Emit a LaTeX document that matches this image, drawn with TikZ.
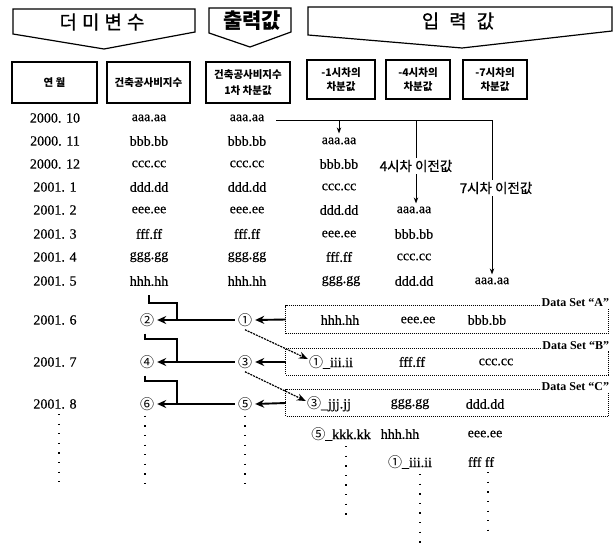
\documentclass[tikz,border=0pt]{standalone}
\usepackage{fontspec}
\setmainfont{Liberation Serif}
\newfontfamily\valf{Liberation Serif}[FakeBold=0.4]
\newfontfamily\krf{Noto Sans CJK KR}
\newfontfamily\krm{Noto Sans CJK KR}[FakeBold=0.8]
\usetikzlibrary{arrows.meta,calc}
\newcommand\fsz[1]{\fontsize{#1}{#1}\selectfont}
\begin{document}
\begin{tikzpicture}[x=1pt,y=-1pt,
  every node/.style={inner sep=1pt},
  val/.style={font=\valf\fsz{14}},
  circ/.style={font=\krf\fsz{14}, inner sep=3pt},
  hdr/.style={draw, line width=1.4pt, align=center, font=\krf\bfseries\fsz{10.5}, inner sep=0pt},
  ban/.style={line width=1.2pt, line join=miter},
  thk/.style={line width=1.9pt},
  thkarr/.style={line width=1.9pt, -{Stealth[length=9pt,width=8pt]}},
  thn/.style={line width=0.9pt},
  thnarr/.style={line width=0.9pt, -{Stealth[length=6pt,width=4.5pt]}},
  dsbox/.style={line width=1pt, dash pattern=on 1pt off 1pt},
  dsarr/.style={line width=1.2pt, dash pattern=on 2pt off 1pt, -{Stealth[length=9pt,width=7pt]}},
  vdots/.style={line width=1.3pt, dash pattern=on 1.3pt off 8.3pt},
  dslab/.style={font=\bfseries\fsz{12}, inner sep=1pt},
  lagl/.style={font=\krm\fsz{13.5}, inner sep=2pt},
]
\useasboundingbox[fill=white] (0,0) rectangle (615,551);

% banners
\draw[ban] (13,9) -- (195,9) -- (195,32) -- (104,49) -- (13,34) -- cycle;
\node[font=\krm\fsz{19}] (tDum) at (102,22) {더\hspace{5pt}미\hspace{5pt}변\hspace{5pt}수};
\draw[ban] (209,8) -- (291,8) -- (291,32) -- (250,47) -- (209,33) -- cycle;
\node[font=\krf\bfseries\fsz{21}] (tOut) at (252,21) {출력값};
\draw[ban] (308,7) -- (612,7) -- (612,31) -- (462,48) -- (308,35) -- cycle;
\node[font=\krm\fsz{19}] (tIn) at (458,21) {입\hspace{10pt}력\hspace{10pt}값};

% column headers
\node[hdr, minimum width=85pt, minimum height=41pt] (h1) at (54.5,82.5) {연 월};
\node[hdr, minimum width=83pt, minimum height=41pt] (h2) at (148.5,82.5) {건축공사비지수};
\node[hdr, minimum width=84pt, minimum height=41pt] (h3) at (248,82.5) {건축공사비지수\\[5pt]1차 차분값};
\node[hdr, minimum width=68pt, minimum height=39pt] (h4) at (341,79.5) {-1시차의\\[4pt]차분값};
\node[hdr, minimum width=64pt, minimum height=39pt] (h5) at (418,79.5) {-4시차의\\[4pt]차분값};
\node[hdr, minimum width=64pt, minimum height=39pt] (h6) at (495,79.5) {-7시차의\\[4pt]차분값};

% years
\node[val] (y1) at (55,118) {2000. 10};
\node[val] (y2) at (55,141) {2000. 11};
\node[val] (y3) at (55,164) {2000. 12};
\node[val] (y4) at (55,187) {2001. 1};
\node[val] (y5) at (55,210) {2001. 2};
\node[val] (y6) at (55,234) {2001. 3};
\node[val] (y7) at (55,257) {2001. 4};
\node[val] (y8) at (55,281) {2001. 5};
\node[val] (y9) at (55,320) {2001. 6};
\node[val] (y10) at (55,362) {2001. 7};
\node[val] (y11) at (55,404) {2001. 8};

% column 2
\node[val] (c2r1) at (149,118) {aaa.aa};
\node[val] (c2r2) at (149,141) {bbb.bb};
\node[val] (c2r3) at (149,164) {ccc.cc};
\node[val] (c2r4) at (149,187) {ddd.dd};
\node[val] (c2r5) at (149,210) {eee.ee};
\node[val] (c2r6) at (149,234) {fff.ff};
\node[val] (c2r7) at (149,257) {ggg.gg};
\node[val] (c2r8) at (149,281) {hhh.hh};
\node[circ] (c2r9) at (147,320) {②};
\node[circ] (c2r10) at (147,362) {④};
\node[circ] (c2r11) at (147,404) {⑥};

% column 3
\node[val] (c3r1) at (247,118) {aaa.aa};
\node[val] (c3r2) at (247,141) {bbb.bb};
\node[val] (c3r3) at (247,164) {ccc.cc};
\node[val] (c3r4) at (247,187) {ddd.dd};
\node[val] (c3r5) at (247,210) {eee.ee};
\node[val] (c3r6) at (247,234) {fff.ff};
\node[val] (c3r7) at (247,257) {ggg.gg};
\node[val] (c3r8) at (247,281) {hhh.hh};
\node[circ] (c3r9) at (245,320) {①};
\node[circ] (c3r10) at (245,362) {③};
\node[circ] (c3r11) at (245,404) {⑤};

% column 4
\node[val] (c4r2) at (339,141) {aaa.aa};
\node[val] (c4r3) at (339,164) {bbb.bb};
\node[val] (c4r4) at (339,187) {ccc.cc};
\node[val] (c4r5) at (339,210) {ddd.dd};
\node[val] (c4r6) at (339,234) {eee.ee};
\node[val] (c4r7) at (339,257) {fff.ff};
\node[val] (c4r8) at (341,281) {ggg.gg};
\node[val] (c4r9) at (340,320) {hhh.hh};
\node[val] (c4r10) at (331,362) {{\krf ①}\_iii.ii};
\node[val] (c4r11) at (329,404) {{\krf ③}\_jjj.jj};
\node[val] (c4r12) at (341,434) {{\krf ⑤}\_kkk.kk};

% column 5
\node[lagl] (lab4) at (416,166) {4시차 이전값};
\node[val] (c5r5) at (414,210) {aaa.aa};
\node[val] (c5r6) at (414,234) {bbb.bb};
\node[val] (c5r7) at (414,257) {ccc.cc};
\node[val] (c5r8) at (414,281) {ddd.dd};
\node[val] (c5r9) at (418,320) {eee.ee};
\node[val] (c5r10) at (412,362) {fff.ff};
\node[val] (c5r11) at (410,404) {ggg.gg};
\node[val] (c5r12) at (400,434) {hhh.hh};
\node[val] (c5r13) at (410,462) {{\krf ①}\_iii.ii};

% column 6
\node[lagl] (lab7) at (496,188) {7시차 이전값};
\node[val] (c6r8) at (492,281) {aaa.aa};
\node[val] (c6r9) at (487,320) {bbb.bb};
\node[val] (c6r10) at (496,362) {ccc.cc};
\node[val] (c6r11) at (485,404) {ddd.dd};
\node[val] (c6r12) at (485,434) {eee.ee};
\node[val] (c6r13) at (481,462) {fff ff};

% data set boxes
\node[minimum width=322pt, minimum height=27pt, inner sep=0pt] (boxA) at (447,319.5) {};
\node[minimum width=322pt, minimum height=26pt, inner sep=0pt] (boxB) at (447,362) {};
\node[minimum width=322pt, minimum height=26pt, inner sep=0pt] (boxC) at (447,403) {};
\node[dslab, anchor=east] (labA) at ([xshift=2pt,yshift=3pt]boxA.north east) {Data Set “A”};
\node[dslab, anchor=east] (labB) at ([xshift=2pt,yshift=3pt]boxB.north east) {Data Set “B”};
\node[dslab, anchor=east] (labC) at ([xshift=2pt,yshift=3pt]boxC.north east) {Data Set “C”};
\draw[dsbox] (labA.west |- boxA.north) -- (boxA.north west) -- (boxA.south west) -- (boxA.south east) -- (boxA.east |- labA.south);
\draw[dsbox] (labB.west |- boxB.north) -- (boxB.north west) -- (boxB.south west) -- (boxB.south east) -- (boxB.east |- labB.south);
\draw[dsbox] (labC.west |- boxC.north) -- (boxC.north west) -- (boxC.south west) -- (boxC.south east) -- (boxC.east |- labC.south);

% lag connectors
\coordinate (top) at ([xshift=11pt,yshift=-2pt]c3r1.east);
\draw[thn] (top) -- (top -| c6r8) -- (lab7.north -| c6r8);
\draw[thnarr, shorten >=3pt] (top -| c4r2) -- (c4r2.north);
\draw[thn] (top -| lab4) -- (lab4.north);
\draw[thnarr, shorten >=2pt] (lab4.south) -- (lab4.south |- c5r5.north);
\draw[thnarr, shorten >=2pt] (lab7.south -| c6r8) -- (c6r8.north);

% output feedback arrows
\draw[thkarr] (boxA.west) -- (c3r9.east);
\draw[thkarr] (boxB.west) -- (c3r10.east);
\draw[thkarr] (boxC.west) -- (c3r11.east);
\draw[thkarr] (c3r9.west) -- (c2r9.east);
\draw[thkarr] (c3r10.west) -- (c2r10.east);
\draw[thkarr] (c3r11.west) -- (c2r11.east);
\coordinate (j1) at (177,303);
\coordinate (j2) at (177,339);
\coordinate (j3) at (177,381);
\draw[thk] (c2r8.south) ++(0,8) |- (j1) -- (j1 |- c2r9.east);
\draw[thk] (c2r9.south) ++(-2,4) |- (j2) -- (j2 |- c2r10.east);
\draw[thk] (c2r10.south) ++(-2,4) |- (j3) -- (j3 |- c2r11.east);

% dashed diagonal arrows
\draw[dsarr] (c3r9.south) -- ([yshift=3pt]c4r10.west);
\draw[dsarr] (c3r10.south) -- ([yshift=3pt]c4r11.west);

% vertical dots
\coordinate (e1) at (59,490);
\coordinate (e2) at (145,490);
\coordinate (e3) at (245,490);
\coordinate (e4) at (346,522);
\coordinate (e5) at (420,548);
\coordinate (e6) at (488,538);
\draw[vdots] (y11.south) ++(4,4) -- (e1);
\draw[vdots] (c2r11.south) ++(-2,2) -- (e2);
\draw[vdots] (c3r11.south) ++(0,2) -- (e3);
\draw[vdots] (c4r12.south) ++(5,4) -- (e4);
\draw[vdots] (c5r13.south) ++(10,4) -- (e5);
\draw[vdots] (c6r13.south) ++(7,4) -- (e6);
\end{tikzpicture}
\end{document}
